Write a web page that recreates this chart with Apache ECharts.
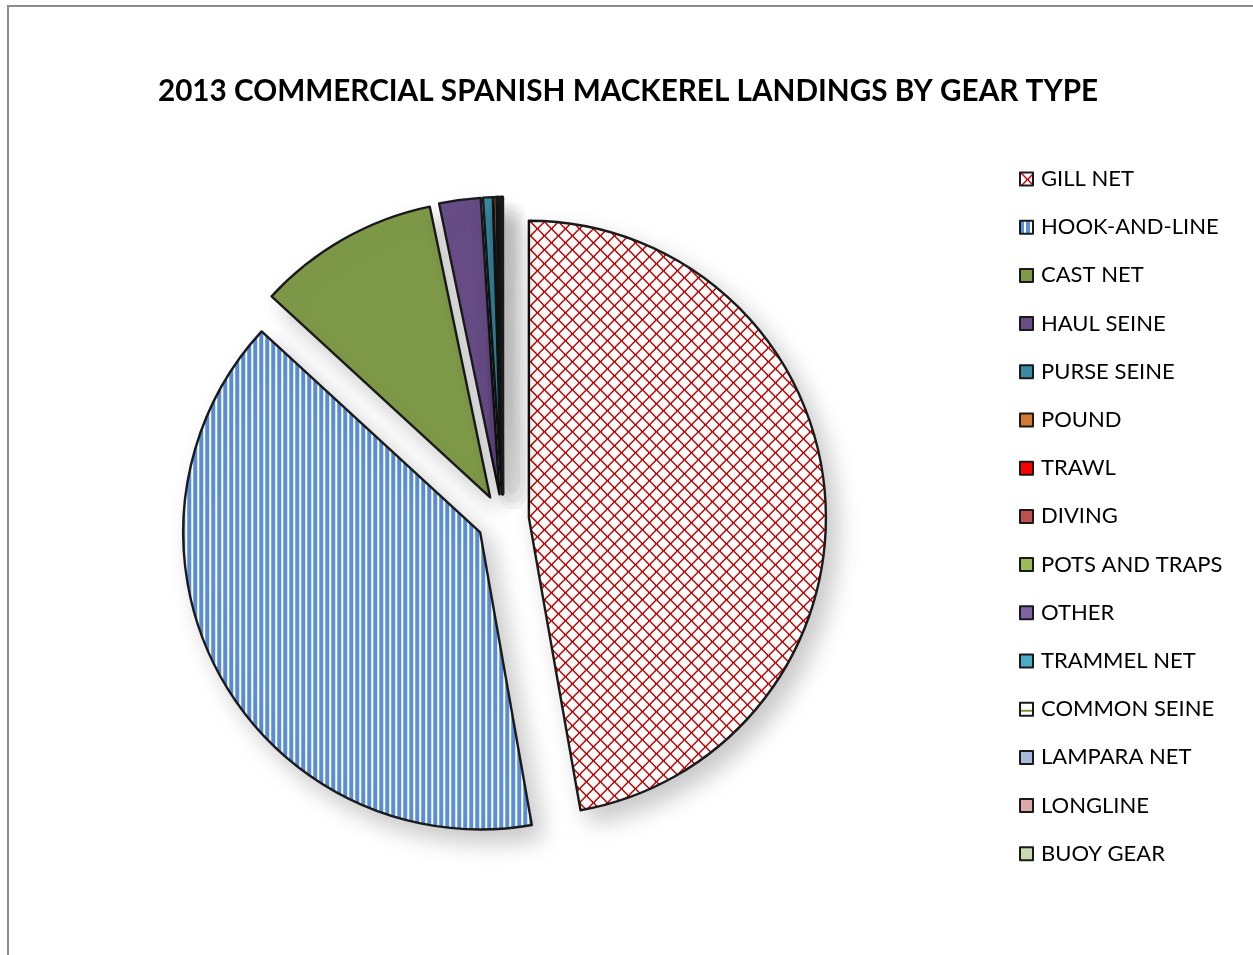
<!DOCTYPE html>
<html>
<head>
<meta charset="utf-8">
<script src="https://cdn.jsdelivr.net/npm/echarts@6/dist/echarts.min.js"></script>
<style>
  html, body { margin: 0; padding: 0; background: #fff; overflow: hidden; }
  #frame { position: absolute; left: 7px; top: 5px; width: 1400px; height: 1100px;
           border-left: 2px solid #8c8c8c; border-top: 2px solid #8c8c8c; box-sizing: border-box; }
  #chart { position: absolute; left: 0; top: 0; width: 1253px; height: 955px; }
</style>
</head>
<body>
<div id="frame"></div>
<div id="chart"></div>
<script>
// Gear types and their share of 2013 commercial Spanish mackerel landings (%)
const gearTypes = ['GILL NET', 'HOOK-AND-LINE', 'CAST NET', 'HAUL SEINE', 'PURSE SEINE', 'POUND',
  'TRAWL', 'DIVING', 'POTS AND TRAPS', 'OTHER', 'TRAMMEL NET', 'COMMON SEINE', 'LAMPARA NET',
  'LONGLINE', 'BUOY GEAR'];
const landingShares = [47.2, 39.6, 9.9, 2.25, 0.53, 0.17, 0.04, 0.04, 0.03, 0.08, 0.06, 0.02, 0.01, 0.02, 0.01];
const titleText = '2013 COMMERCIAL SPANISH MACKEREL LANDINGS BY GEAR TYPE';

// Fill patterns
function crossHatch() {
  const s = 14, c = document.createElement('canvas');
  c.width = s; c.height = s;
  const g = c.getContext('2d');
  g.fillStyle = '#ffffff'; g.fillRect(0, 0, s, s);
  g.fillStyle = '#c00000';
  for (let i = 0; i < s; i++) {
    g.fillRect(i, i, 1, 1);
    g.fillRect(s - 1 - i, i, 1, 1);
    g.fillRect((i + 1) % s, i, 1, 1);
    g.fillRect((s - i) % s, i, 1, 1);
  }
  return { image: c, repeat: 'repeat' };
}
function verticalStripes() {
  const c = document.createElement('canvas');
  c.width = 6; c.height = 6;
  const g = c.getContext('2d');
  g.fillStyle = '#ffffff'; g.fillRect(0, 0, 6, 6);
  g.fillStyle = '#5b8fd9'; g.fillRect(0, 0, 4, 6);
  return { image: c, repeat: 'repeat' };
}
function horizontalLine() {
  const c = document.createElement('canvas');
  c.width = 8; c.height = 12;
  const g = c.getContext('2d');
  g.fillStyle = '#ffffff'; g.fillRect(0, 0, 8, 12);
  g.fillStyle = '#77933c'; g.fillRect(0, 7, 8, 2);
  return { image: c, repeat: 'repeat' };
}

const sliceColors = [crossHatch(), verticalStripes(), '#7e9a48', '#684d87', '#3a8aa2', '#d57a35',
  '#ff0000', '#c0504d', '#9bbb59', '#8064a2', '#4bacc6', horizontalLine(), '#a9bbdd',
  '#dcaaaa', '#c8dbb0'];

const chart = echarts.init(document.getElementById('chart'), null, { renderer: 'canvas' });

const pieData = gearTypes.map((name, i) => ({
  name: name,
  value: landingShares[i],
  selected: true,
  itemStyle: { color: sliceColors[i] }
}));

chart.setOption({
  animation: false,
  backgroundColor: 'transparent',
  title: {
    text: titleText,
    left: 623, top: 71, textAlign: 'center',
    textStyle: { fontFamily: 'Lato', fontWeight: 'bold', fontSize: 29.7, color: '#000' }
  },
  legend: {
    orient: 'vertical',
    left: 1014, top: 163,
    itemWidth: 13, itemHeight: 13,
    itemGap: 26.2,
    icon: 'rect',
    selectedMode: false,
    itemStyle: { borderColor: '#1a1a1a', borderWidth: 2 },
    textStyle: { fontFamily: 'Lato', fontSize: 22, lineHeight: 22, color: '#000', padding: [0, 0, 0, 3] },
    data: gearTypes
  },
  series: [{
    type: 'pie',
    center: [503, 520],
    radius: 297,
    startAngle: 90,
    clockwise: true,
    selectedMode: 'multiple',
    selectedOffset: 26,
    label: { show: false },
    labelLine: { show: false },
    emphasis: { disabled: true, scale: false },
    itemStyle: {
      borderColor: '#1a1a1a', borderWidth: 2.4,
      shadowColor: 'rgba(0,0,0,0.22)', shadowBlur: 24, shadowOffsetX: 10, shadowOffsetY: 12
    },
    select: { itemStyle: { borderColor: '#1a1a1a', borderWidth: 2.4 } },
    data: pieData
  }]
});
</script>
</body>
</html>
